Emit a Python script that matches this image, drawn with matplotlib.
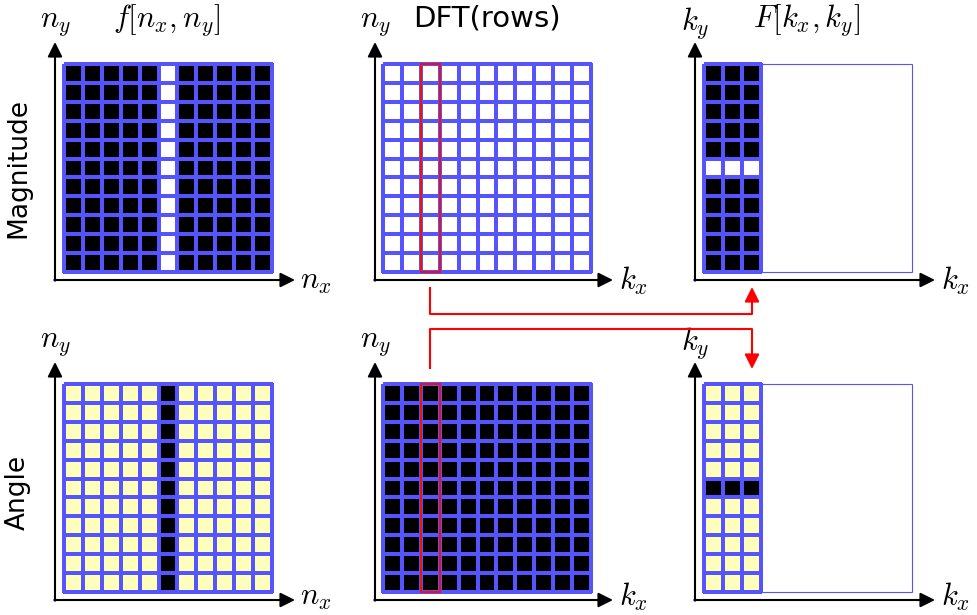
import numpy as np
import matplotlib
matplotlib.use("Agg")
import matplotlib.pyplot as plt
from matplotlib.colors import ListedColormap
from matplotlib.patches import Rectangle

plt.rcParams['mathtext.fontset'] = 'cm'
plt.rcParams['font.family'] = ['DejaVu Sans']

# ---- data: cell states (K = black, W = white, Y = yellow) ----
mag_space = ["KKKKKWKKKKK"] * 11
angle_space = ["YYYYYKYYYYY"] * 11
mag_rows = ["WWWWWWWWWWW"] * 11
angle_rows = ["KKKKKKKKKKK"] * 11
mag_freq = ["KKK"] * 5 + ["WWW"] + ["KKK"] * 5
angle_freq = ["YYY"] * 5 + ["KKK"] + ["YYY"] * 5
highlight_col = 2
row_labels = ["Magnitude", "Angle"]
titles = [r"$f[n_x,n_y]$", "DFT(rows)", r"$F[k_x,k_y]$"]
ylabels = [r"$n_y$", r"$n_y$", r"$k_y$"]
xlabels = [r"$n_x$", r"$k_x$", r"$k_x$"]

code = {"K": 0, "W": 1, "Y": 2}
cmap = ListedColormap(["#000000", "#ffffff", "#ffffbb"])
BLUE = "#5555ff"

fig = plt.figure(figsize=(9.77, 6.15), dpi=100)
ax = fig.add_axes([0, 0, 1, 1])
ax.set_xlim(0, 977)
ax.set_ylim(615, 0)
ax.axis("off")

N = 11
size = 208.0
cell = size / N
grid_x0 = [64, 383, 704]
axis_x = [55, 375, 695]
grid_y0 = [64, 384]
axis_y = [280, 600]
xlab_dy = [1, -3]
xtip = [295, 613, 935]

panels = [[mag_space, mag_rows, mag_freq], [angle_space, angle_rows, angle_freq]]

for r in range(2):
    for c in range(3):
        data = panels[r][c]
        C = np.array([[code[ch] for ch in row] for row in data])
        nrow, ncol = C.shape
        x0, y0 = grid_x0[c], grid_y0[r]
        X = x0 + cell * np.arange(ncol + 1)
        Y = y0 + cell * np.arange(nrow + 1)
        if c == 2:
            ax.add_patch(Rectangle((x0, y0), size, size, fill=False,
                                   edgecolor=BLUE, lw=0.8, zorder=1))
        ax.pcolormesh(X, Y, C, cmap=cmap, vmin=0, vmax=2,
                      edgecolors=BLUE, linewidth=1.5, zorder=2)
        if c == 1:
            ax.add_patch(Rectangle((x0 + cell * highlight_col, y0), cell, size,
                                   fill=False, edgecolor="#ee1111", lw=1.5, zorder=3))
        # axes arrows
        ax0, ay0 = axis_x[c], axis_y[r]
        ax.annotate("", xy=(ax0, ay0 - 238), xytext=(ax0, ay0 + 0.7),
                    arrowprops=dict(arrowstyle="-|>", color="k", lw=1.5,
                                    mutation_scale=22, shrinkA=0, shrinkB=0))
        ax.annotate("", xy=(xtip[c], ay0), xytext=(ax0 - 0.7, ay0),
                    arrowprops=dict(arrowstyle="-|>", color="k", lw=1.5,
                                    mutation_scale=22, shrinkA=0, shrinkB=0))
        ax.text(ax0, ay0 - 257, ylabels[c], fontsize=22, ha="center", va="center")
        ax.text(xtip[c] + 21, ay0 + xlab_dy[r], xlabels[c], fontsize=22,
                ha="center", va="center")

# titles
ax.text(167, 20, titles[0], fontsize=22, ha="center", va="center")
ax.text(487, 19, titles[1], fontsize=21, ha="center", va="center")
ax.text(807, 20, titles[2], fontsize=22, ha="center", va="center")

# row labels
ax.text(18, 168, row_labels[0], fontsize=19, rotation=90, ha="center", va="center")
ax.text(18, 492, row_labels[1], fontsize=19, rotation=90, ha="center", va="center")

# red connection paths
hx = grid_x0[1] + cell * (highlight_col + 0.5)
tx = 752
ax.plot([hx, hx, tx, tx], [288, 314, 314, 302], color="red", lw=1.5, zorder=4)
ax.annotate("", xy=(tx, 287), xytext=(tx, 305),
            arrowprops=dict(arrowstyle="-|>", color="red", lw=1.5,
                            mutation_scale=22, shrinkA=0, shrinkB=0))
ax.plot([hx, hx, tx, tx], [368, 329, 329, 352], color="red", lw=1.5, zorder=4)
ax.annotate("", xy=(tx, 369), xytext=(tx, 350),
            arrowprops=dict(arrowstyle="-|>", color="red", lw=1.5,
                            mutation_scale=22, shrinkA=0, shrinkB=0))

fig.savefig("out.png", dpi=100)
